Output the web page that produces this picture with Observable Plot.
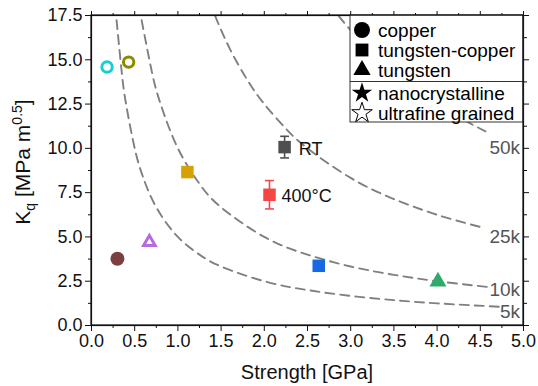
<!DOCTYPE html>
<html><head><meta charset="utf-8">
<script src="https://cdn.jsdelivr.net/npm/d3@7"></script>
<script src="https://cdn.jsdelivr.net/npm/@observablehq/plot@0.6"></script>
<style>
body{margin:0;background:#fff}
#chart{position:relative;width:538px;height:386px}
</style>
</head><body><div id="chart"></div>
<script>
// ---- data ----
const strength = [0.30, 0.67, 0.18, 0.43, 1.11, 2.235, 2.06, 2.63, 4.01];
const kq       = [3.77, 4.70, 14.59, 14.87, 8.66, 10.07, 7.38, 3.37, 2.48];
const kqErr    = [0, 0, 0, 0, 0, 0.61, 0.80, 0, 0];
const material = ["copper","tungsten","copper","copper","tungsten-copper","tungsten-copper","tungsten-copper","tungsten-copper","tungsten"];
const grain    = ["nanocrystalline","ultrafine grained","ultrafine grained","ultrafine grained","nanocrystalline","nanocrystalline","nanocrystalline","nanocrystalline","nanocrystalline"];
const pointColors = ["#7b3f3f","#b36ae2","#18cfd0","#8d8a00","#d5a205","#4f4f4f","#f54646","#1768e4","#2eaa6b"];

const annoText = ["RT", "400°C"];
const annoX = [2.40, 2.20];
const annoY = [9.97, 7.30];

// iso-lines (Kq x strength)
const c5x  = [0.29,0.35,0.40,0.50,0.60,0.75,1.00,1.25,1.50,2.00,2.50,3.00,3.50,4.00,4.72];
const c5y  = [17.24,14.29,12.50,10.00,8.33,6.67,5.00,4.00,3.33,2.50,2.00,1.67,1.43,1.25,1.06];
const c10x = [0.58,0.70,0.80,1.00,1.25,1.50,2.00,2.50,3.00,3.50,4.00,4.58];
const c10y = [17.24,14.29,12.50,10.00,8.00,6.67,5.00,4.00,3.33,2.86,2.50,2.18];
const c25x = [1.43,1.60,1.80,2.00,2.25,2.50,3.00,3.50,4.00,4.54];
const c25y = [17.48,15.63,13.89,12.50,11.11,10.00,8.33,7.14,6.25,5.51];
const c50x = [2.86,3.00,3.25,3.50,3.75,4.00,4.25,4.56];
const c50y = [17.48,16.67,15.38,14.29,13.33,12.50,11.76,10.96];
const curveLabels = ["5k","10k","25k","50k"];
const curveLabelX = [4.96, 4.96, 4.96, 4.96];
const curveLabelY = [0.75, 2.03, 4.99, 10.05];

const xTicks = [0,0.5,1,1.5,2,2.5,3,3.5,4,4.5,5];
const xMinor = [0.25,0.75,1.25,1.75,2.25,2.75,3.25,3.75,4.25,4.75];
const yTicks = [0,2.5,5,7.5,10,12.5,15,17.5];
const yMinor = [1.25,3.75,6.25,8.75,11.25,13.75,16.25];

const legendMaterials = ["copper","tungsten-copper","tungsten"];
const legendGrains = ["nanocrystalline","ultrafine grained"];

// ---- build ----
const font = "'Liberation Sans', Arial, Helvetica, sans-serif";
const pts = strength.map((x,i)=>({x, y:kq[i], err:kqErr[i], material:material[i], grain:grain[i], color:pointColors[i]}));
const symOf = {"copper":"circle","tungsten-copper":"square","tungsten":"triangle"};
const filled = pts.filter(d=>d.grain==="nanocrystalline");
const open = pts.filter(d=>d.grain!=="nanocrystalline");
const rFilled = d => d.material==="copper" ? 7 : d.material==="tungsten" ? 6.3 : 7.05;
const rOpen = d => d.material==="copper" ? 5.2 : 4.3;
const errPts = pts.filter(d=>d.err>0);
const capSymbol = {draw(ctx, size){const w=Math.sqrt(size); ctx.moveTo(-w/2,0); ctx.lineTo(w/2,0);}};

const curves = [[c5x,c5y],[c10x,c10y],[c25x,c25y],[c50x,c50y]].map(([xs,ys],k)=>xs.map((x,i)=>({x,y:ys[i],k})));
const labels = curveLabels.map((t,i)=>({t,x:curveLabelX[i],y:curveLabelY[i]}));
const annos = annoText.map((t,i)=>({t,x:annoX[i],y:annoY[i]}));

const svg = Plot.plot({
  width:538, height:386,
  marginLeft:91, marginRight:15, marginTop:15, marginBottom:61,
  style:{fontFamily:font, fontSize:"18px", color:"#111", background:"#fff"},
  x:{domain:[0,5]},
  y:{domain:[0,17.5]},
  r:{type:"identity"},
  marks:[
    ...curves.map(c=>Plot.line(c,{x:"x",y:"y",stroke:"#808080",strokeWidth:1.9,strokeDasharray:"9,6",curve:"natural"})),
    Plot.text(labels,{x:"x",y:"y",text:"t",textAnchor:"end",fill:"#555",fontSize:19}),
    Plot.ruleX(errPts,{x:"x",y1:d=>d.y-d.err,y2:d=>d.y+d.err,stroke:"color",strokeWidth:1.6}),
    Plot.dot(errPts,{x:"x",y:d=>d.y-d.err,symbol:capSymbol,r:5,stroke:"color",strokeWidth:1.6}),
    Plot.dot(errPts,{x:"x",y:d=>d.y+d.err,symbol:capSymbol,r:5,stroke:"color",strokeWidth:1.6}),
    Plot.dot(filled,{x:"x",y:"y",symbol:d=>symOf[d.material],r:rFilled,fill:"color",stroke:"none"}),
    Plot.dot(open,{x:"x",y:"y",symbol:d=>symOf[d.material],r:rOpen,fill:"none",stroke:"color",strokeWidth:3}),
    Plot.text(annos,{x:"x",y:"y",text:"t",textAnchor:"start",fill:"#111",fontSize:18}),
    Plot.axisX({ticks:xTicks,anchor:"bottom",tickSize:6,tickPadding:3,tickFormat:d=>d.toFixed(1),fontSize:18,label:null}),
    Plot.axisX({ticks:xMinor,anchor:"bottom",tickSize:3,tickFormat:()=>"",label:null}),
    Plot.axisX({ticks:xTicks,anchor:"top",tickSize:5,tickFormat:()=>"",label:null}),
    Plot.axisX({ticks:xMinor,anchor:"top",tickSize:3,tickFormat:()=>"",label:null}),
    Plot.axisY({ticks:yTicks,anchor:"left",tickSize:6,tickPadding:3,tickFormat:d=>d.toFixed(1),fontSize:18,label:null}),
    Plot.axisY({ticks:yMinor,anchor:"left",tickSize:3,tickFormat:()=>"",label:null}),
    Plot.axisY({ticks:yTicks,anchor:"right",tickSize:5,tickFormat:()=>"",label:null}),
    Plot.axisY({ticks:yMinor,anchor:"right",tickSize:3,tickFormat:()=>"",label:null}),
    Plot.frame({stroke:"#111",strokeWidth:1.2})
  ]
});
document.getElementById("chart").appendChild(svg);

const s = d3.select(svg);
// axis titles
s.append("text").attr("x",307).attr("y",379).attr("text-anchor","middle")
  .style("font-size","20px").attr("fill","#111").text("Strength [GPa]");
const yt = s.append("text").attr("transform","translate(30,162) rotate(-90)").attr("text-anchor","middle")
  .style("font-size","21px").attr("fill","#111");
yt.append("tspan").text("K");
yt.append("tspan").attr("dy",5).style("font-size","14px").text("q");
yt.append("tspan").attr("dy",-5).text(" [MPa m");
yt.append("tspan").attr("dy",-8).style("font-size","14px").text("0.5");
yt.append("tspan").attr("dy",8).text("]");

// legend
const lg = s.append("g").attr("text-anchor","start");
lg.append("rect").attr("x",350).attr("y",15).attr("width",173).attr("height",107)
  .attr("fill","#fff").attr("stroke","#333").attr("stroke-width",1);
lg.append("line").attr("x1",350).attr("x2",523).attr("y1",81.5).attr("y2",81.5).attr("stroke","#333");
const legSym = [d3.symbolCircle,d3.symbolSquare,d3.symbolTriangle];
const legSize = [200,165,130];
const rowsY = [30,50,70,93,113];
legendMaterials.forEach((m,i)=>{
  lg.append("path").attr("d",d3.symbol(legSym[i],legSize[i])()).attr("transform",`translate(362,${rowsY[i]})`).attr("fill","#000");
  lg.append("text").attr("x",378).attr("y",rowsY[i]).attr("dy","0.35em").attr("text-anchor","start").style("font-size","19px").attr("fill","#000").text(m);
});
legendGrains.forEach((g,i)=>{
  const y = rowsY[3+i];
  const p = lg.append("path").attr("d",d3.symbol(d3.symbolStar,130)()).attr("transform",`translate(362,${y})`);
  if(i===0) p.attr("fill","#000"); else p.attr("fill","#fff").attr("stroke","#000").attr("stroke-width",1);
  lg.append("text").attr("x",378).attr("y",y).attr("dy","0.35em").attr("text-anchor","start").style("font-size","19px").attr("fill","#000").text(g);
});
// redraw frame edges over legend
s.append("rect").attr("x",91).attr("y",15).attr("width",432).attr("height",310).attr("fill","none").attr("stroke","#111").attr("stroke-width",1.2);
</script></body></html>
